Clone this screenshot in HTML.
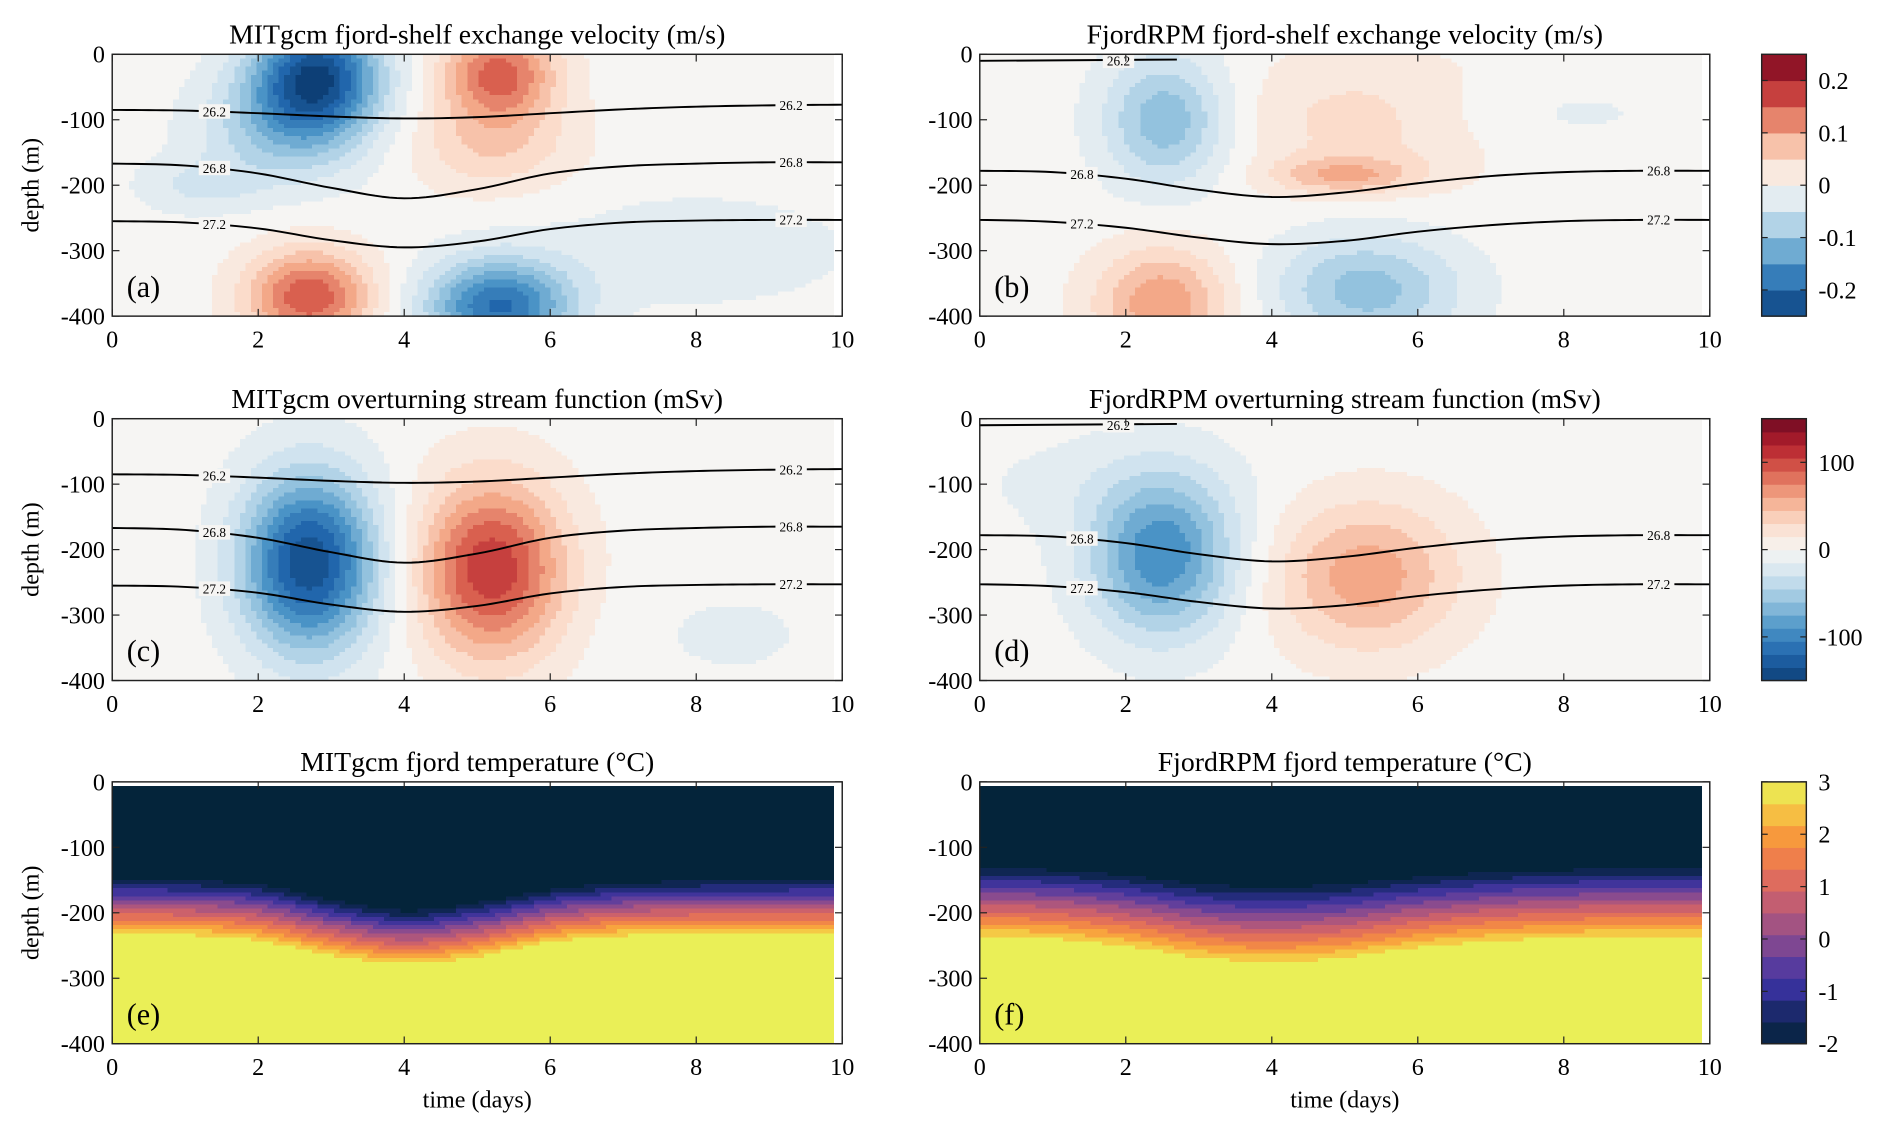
<!DOCTYPE html>
<html><head><meta charset="utf-8"><style>
html,body{margin:0;padding:0;background:#fff;}
svg{display:block;font-family:"Liberation Serif",serif;}
</style></head><body>
<svg id="fig" width="1892" height="1133" viewBox="0 0 1568 939" preserveAspectRatio="none" xmlns="http://www.w3.org/2000/svg"></svg>
<script>
// ---- data ----
const xTicks=[0,2,4,6,8,10];
const yTicks=[0,-100,-200,-300,-400];
// blobs: [time, depth, amplitude, sigmaTime, sigmaDepth]
const blobsA=[[2.8,-30,-0.22,0.6,60],[2.4,-110,-0.09,0.8,60],[5.3,-30,0.15,0.55,50],[5.2,-140,0.06,0.8,50],[2.7,-370,0.16,0.6,50],[5.3,-385,-0.19,0.7,50],[1.2,-200,-0.04,0.6,30],[8,-300,-0.03,1.5,60]];
const blobsB=[[2.55,-100,-0.11,0.6,70],[5.3,-100,0.05,1.3,70],[5,-185,0.08,0.7,20],[2.5,-380,0.11,0.65,60],[5.3,-360,-0.1,0.9,60],[7.5,-90,-0.02,1.5,40]];
const blobsC=[[2.7,-220,-140,0.65,95],[5.2,-230,110,0.7,95],[8.5,-330,-10,1,60]];
const blobsD=[[2.5,-210,-95,0.7,85],[5.3,-240,62,0.9,80],[1.5,-100,-10,1.5,60]];
const isoTimes=[0,1,2,3,4,5,6,7,8,9,10];
const isoA262=[-85,-86,-90,-95,-98,-96,-90,-84,-80,-78,-77];
const isoA268=[-167,-170,-182,-204,-220,-206,-182,-171,-167,-165,-165];
const isoA272=[-255,-257,-266,-284,-295,-286,-267,-257,-254,-253,-253];
const isoB262=[-10,-10,-10,null,null,null,null,null,null,null,null];
const isoB268=[-178,-180,-190,-207,-218,-211,-197,-186,-180,-178,-178];
const isoB272=[-253,-256,-265,-280,-290,-285,-271,-261,-255,-253,-253];
// temperature: depth of top (cold) and bottom (warm) of thermocline
const thermTopE=[-148,-149,-155,-178,-195,-183,-163,-153,-150,-149,-148];
const thermBotE=[-237,-239,-248,-270,-283,-272,-250,-240,-237,-237,-237];
const thermTopF=[-130,-132,-140,-153,-158,-153,-143,-136,-132,-130,-130];
const thermBotF=[-243,-246,-258,-275,-282,-275,-260,-250,-245,-243,-243];
const cbTicks1=[0.2,0.1,0,-0.1,-0.2];
const cbTicks2=[100,0,-100];
const cbTicks3=[3,2,1,0,-1,-2];

const NS='http://www.w3.org/2000/svg';
const svg=document.getElementById('fig');
function mk(tag,attrs,parent){const e=document.createElementNS(NS,tag);for(const k in attrs)e.setAttribute(k,attrs[k]);(parent||svg).appendChild(e);return e;}
function lerp(a,b,t){return a+(b-a)*t;}
function hex(c){return[parseInt(c.slice(1,3),16),parseInt(c.slice(3,5),16),parseInt(c.slice(5,7),16)];}
function cmap(stops,f){f=Math.max(0,Math.min(1,f));const n=stops.length-1;const i=Math.min(n-1,Math.floor(f*n));const t=f*n-i;const a=hex(stops[i]),b=hex(stops[i+1]);return 'rgb('+a.map((v,k)=>Math.round(lerp(v,b[k],t))).join(',')+')';}
const rdbu=['#0d3f76','#2166ac','#4a93c6','#93c2de','#d0e3ef','#f6f5f3','#fbdccb','#f3a888','#d9604f','#b31f2c','#6e0a22'];
const therm=['#04243a','#14275e','#33309a','#5a3c9e','#8a4b8e','#b4587a','#d86664','#ee7c4c','#f89c3c','#f5c945','#e8f65a'];
function interp(arr,t){const n=arr.length;const i=Math.max(0,Math.min(n-2,Math.floor(t)));const f=t-i;
 const p0=arr[Math.max(0,i-1)],p1=arr[i],p2=arr[i+1],p3=arr[Math.min(n-1,i+2)];
 return 0.5*((2*p1)+(-p0+p2)*f+(2*p0-5*p1+4*p2-p3)*f*f+(-p0+3*p1-3*p2+p3)*f*f*f);}

const panels=[
 {x:93,y:45,title:'MITgcm fjord-shelf exchange velocity (m/s)',lab:'(a)',blobs:blobsA,rng:0.25,iso:[isoA262,isoA268,isoA272],name:'a'},
 {x:812,y:45,title:'FjordRPM fjord-shelf exchange velocity (m/s)',lab:'(b)',blobs:blobsB,rng:0.25,iso:[isoB262,isoB268,isoB272],name:'b'},
 {x:93,y:347,title:'MITgcm overturning stream function (mSv)',lab:'(c)',blobs:blobsC,rng:150,iso:[isoA262,isoA268,isoA272],name:'c'},
 {x:812,y:347,title:'FjordRPM overturning stream function (mSv)',lab:'(d)',blobs:blobsD,rng:150,iso:[isoB262,isoB268,isoB272],name:'d'},
 {x:93,y:648,title:'MITgcm fjord temperature (°C)',lab:'(e)',therm:[thermTopE,thermBotE],name:'e'},
 {x:812,y:648,title:'FjordRPM fjord temperature (°C)',lab:'(f)',therm:[thermTopF,thermBotF],name:'f'}
];
const W=605,H=217,isoLabels=['26.2','26.8','27.2'];
panels.forEach(p=>{
 const g=mk('g',{});
 
 
 const X=t=>p.x+t/10*W, Y=d=>p.y-d/400*H;
 const nt=130,nd=64,tmax=9.88;
 const cells=mk('g',{'shape-rendering':'crispEdges'},g);
 
 
 for(let i=0;i<nt;i++){const t=(i+0.5)*tmax/nt;
  for(let j=0;j<nd;j++){const d=-(j+0.5)*400/nd;let col;
   if(p.blobs){let v=0;p.blobs.forEach(b=>{v+=b[2]*Math.exp(-0.5*((t-b[0])/b[3])**2-0.5*((d-b[1])/b[4])**2);});
    let q=Math.round(v/p.rng*10)/10; col=cmap(rdbu,(q+1)/2);}
   else{const top=interp(p.therm[0],t),bot=interp(p.therm[1],t);let f=(top-d)/(top-bot);f=Math.max(0,Math.min(1,f));
    let T=-2+5*f; T=Math.round(T*2.4)/2.4; col=cmap(therm,(T+2)/5); if(d>-8)col='#ffffff';}
   mk('rect',{x:X(i*tmax/nt),y:Y(-j*400/nd),width:W*tmax/10/nt+0.6,height:H/nd+0.6,fill:col},cells);}}
 if(p.iso){p.iso.forEach((arr,k)=>{let pts=[];
  if(arr[3]===null){pts=[X(0)+','+Y(-10),X(2.7)+','+Y(-8)];}
  else{for(let t=0;t<=10.001;t+=0.1)pts.push(X(t)+','+Y(interp(arr,t)));}
  const l=mk('polyline',{points:pts.join(' '),fill:'none',stroke:'#000','stroke-width':1.6},g);
  
  
  const lt=(arr[3]===null)?[1.9]:[1.4,9.3];
  lt.forEach(t=>{const dv=(arr[3]===null)?-10:interp(arr,t);
   mk('rect',{x:X(t)-13,y:Y(dv)-6,width:26,height:12,fill:'#f6f5f3'},g);
   const tx=mk('text',{x:X(t),y:Y(dv)+4,'font-size':11,'text-anchor':'middle'},g);tx.textContent=isoLabels[k];
   });});}
 mk('rect',{x:p.x,y:p.y,width:W,height:H,fill:'none',stroke:'#222','stroke-width':1.2},g);
 xTicks.forEach(t=>{mk('line',{x1:X(t),x2:X(t),y1:p.y+H,y2:p.y+H-6,stroke:'#222'},g);mk('line',{x1:X(t),x2:X(t),y1:p.y,y2:p.y+6,stroke:'#222'},g);
  const tx=mk('text',{x:X(t),y:p.y+H+26,'font-size':20,'text-anchor':'middle'},g);tx.textContent=t;
  });
 yTicks.forEach(d=>{mk('line',{x1:p.x,x2:p.x+6,y1:Y(d),y2:Y(d),stroke:'#222'},g);mk('line',{x1:p.x+W,x2:p.x+W-6,y1:Y(d),y2:Y(d),stroke:'#222'},g);
  const tx=mk('text',{x:p.x-6,y:Y(d)+7,'font-size':20,'text-anchor':'end'},g);tx.textContent=d;
  });
 const ti=mk('text',{x:p.x+W/2,y:p.y-9,'font-size':23,'text-anchor':'middle'},g);ti.textContent=p.title;
 
 const lb=mk('text',{x:p.x+12,y:p.y+H-16,'font-size':25},g);lb.textContent=p.lab;
 
 if(p.x<500){const yl=mk('text',{transform:'translate(32,'+(p.y+H/2)+') rotate(-90)','font-size':20,'text-anchor':'middle'},g);yl.textContent='depth (m)';
  }
 if(p.therm){const xl=mk('text',{x:p.x+W/2,y:p.y+H+53,'font-size':20,'text-anchor':'middle'},g);xl.textContent='time (days)';
  }
});
// colorbars
[[45,0.25,cbTicks1,rdbu,10],[347,150,cbTicks2,rdbu,20],[648,null,cbTicks3,therm,12]].forEach((c,ci)=>{
 const g=mk('g',{});
 const x=1460,w=37,h=217,n=c[4];
 for(let i=0;i<n;i++){mk('rect',{x:x,y:c[0]+h-(i+1)*h/n,width:w,height:h/n+0.5,fill:cmap(c[3],(i+0.5)/n)},g);}
 mk('rect',{x:x,y:c[0],width:w,height:h,fill:'none',stroke:'#222','stroke-width':1.2},g);
 c[2].forEach(v=>{const y=c[1]===null?c[0]+(3-v)/5*h:c[0]+h/2-v/c[1]*h/2;
  mk('line',{x1:x+w,x2:x+w-5,y1:y,y2:y,stroke:'#222'},g);mk('line',{x1:x,x2:x+5,y1:y,y2:y,stroke:'#222'},g);
  const tx=mk('text',{x:x+w+10,y:y+7,'font-size':20},g);tx.textContent=v;
  });
});
</script>
</body></html>
